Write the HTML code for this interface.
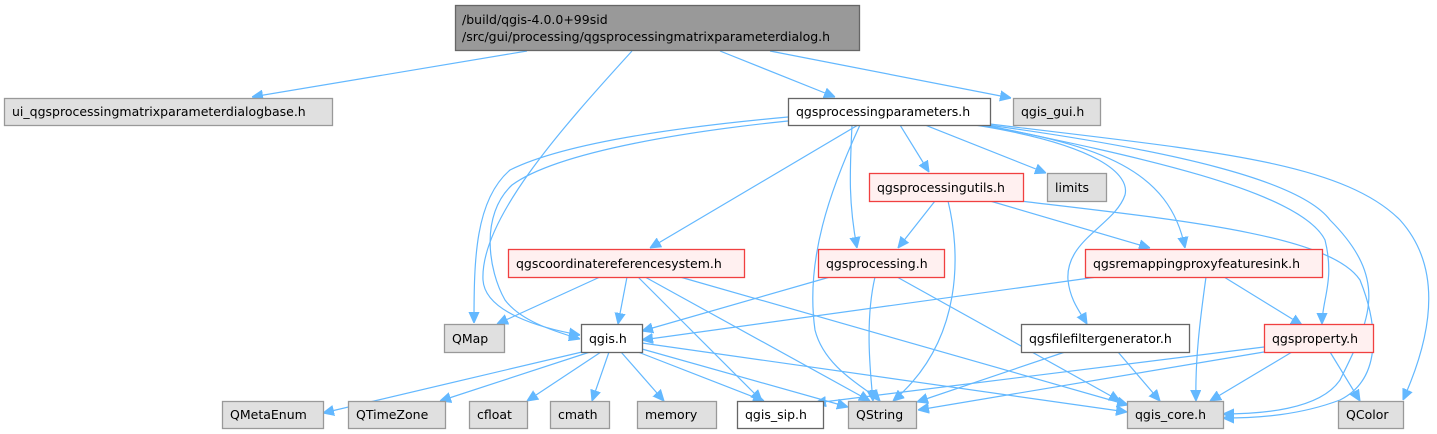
<!DOCTYPE html>
<html><head><meta charset="utf-8"><style>
html,body{margin:0;padding:0;background:#fff;}
svg{display:block;}
text{font-family:"DejaVu Sans","Liberation Sans",sans-serif;font-size:12.5px;fill:#000;}
.g{fill:#e0e0e0;stroke:#999;stroke-width:1.3}
.w{fill:#fff;stroke:#666;stroke-width:1.3}
.r{fill:#fff0f0;stroke:#f04040;stroke-width:1.3}
.e{fill:none;stroke:#63b8ff;stroke-width:1.2}
</style></head><body>
<svg width="1437" height="434" viewBox="0 0 1437 434" xmlns="http://www.w3.org/2000/svg">
<defs><marker id="a" viewBox="0 0 10 10" refX="10" refY="5" markerWidth="11" markerHeight="11" markerUnits="userSpaceOnUse" orient="auto"><path d="M0,0.5 L10,5 L0,9.5 z" fill="#63b8ff" stroke="#63b8ff"/></marker></defs>
<g marker-end="url(#a)">
<path class="e" d="M527,51 L252,97"/>
<path class="e" d="M632,51 C560,130 480,220 483,280 C485,312 540,328 580,335"/>
<path class="e" d="M720,51 L835,97"/>
<path class="e" d="M770,51 L1011,98"/>
<path class="e" d="M788,117 C700,125 570,140 510,170 C475,200 474,260 474,323"/>
<path class="e" d="M788,121 C700,130 560,150 512,185 C480,215 488,270 505,300 C520,320 550,330 580,339"/>
<path class="e" d="M858,125 L650,248"/>
<path class="e" d="M860,125 C830,190 805,260 815,330 C825,370 870,390 880,401"/>
<path class="e" d="M852,125 C850,170 848,200 857,248"/>
<path class="e" d="M900,125 L929,172"/>
<path class="e" d="M925,125 L1046,173"/>
<path class="e" d="M975,125 C1100,145 1130,175 1125,195 C1115,225 1065,240 1068,280 C1070,300 1080,312 1087,324"/>
<path class="e" d="M980,125 C1100,145 1170,170 1185,248"/>
<path class="e" d="M985,125 C1130,155 1300,190 1325,240 C1335,280 1322,300 1322,324"/>
<path class="e" d="M988,125 C1170,150 1300,180 1330,220 C1390,280 1370,320 1340,380 C1320,410 1260,414 1223,414"/>
<path class="e" d="M990,124 C1200,150 1340,160 1400,220 C1445,270 1430,340 1403,400"/>
<path class="e" d="M935,201 L898,248"/>
<path class="e" d="M948,201 C960,250 965,340 893,401"/>
<path class="e" d="M990,201 L1150,248"/>
<path class="e" d="M1020,201 C1180,220 1330,235 1360,280 C1380,330 1380,380 1340,400 C1300,415 1260,418 1223,418"/>
<path class="e" d="M600,277 L497,324"/>
<path class="e" d="M627,277 L618,324"/>
<path class="e" d="M638,277 L762,401"/>
<path class="e" d="M645,277 L870,401"/>
<path class="e" d="M680,277 L1128,405"/>
<path class="e" d="M830,277 L642,331"/>
<path class="e" d="M875,277 C865,320 870,370 873,401"/>
<path class="e" d="M897,277 L1120,401"/>
<path class="e" d="M1097,277 L642,340"/>
<path class="e" d="M1206,277 C1200,320 1195,360 1196,401"/>
<path class="e" d="M1224,277 L1302,325"/>
<path class="e" d="M1065,352 L917,402"/>
<path class="e" d="M1118,352 L1160,401"/>
<path class="e" d="M1264,347 L815,403"/>
<path class="e" d="M1264,352 L918,410"/>
<path class="e" d="M1292,352 L1210,401"/>
<path class="e" d="M1330,352 L1360,401"/>
<path class="e" d="M582,352 L323,413"/>
<path class="e" d="M590,352 L440,401"/>
<path class="e" d="M601,352 L527,401"/>
<path class="e" d="M609,352 L592,401"/>
<path class="e" d="M621,352 L664,401"/>
<path class="e" d="M638,352 L764,401"/>
<path class="e" d="M642,349 L848,407"/>
<path class="e" d="M642,343 L1127,412"/>
</g>
<rect x="455.5" y="5.5" width="404" height="45" fill="#999" stroke="#666" stroke-width="1.3"/>
<text x="462" y="24">/build/qgis-4.0.0+99sid</text>
<text x="462" y="41">/src/gui/processing/qgsprocessingmatrixparameterdialog.h</text>
<rect class="g" x="4.5" y="98.5" width="328" height="27"/><text x="12" y="116">ui_qgsprocessingmatrixparameterdialogbase.h</text>
<rect class="w" x="788.5" y="98.5" width="202" height="27"/><text x="796" y="116">qgsprocessingparameters.h</text>
<rect class="g" x="1013.5" y="98.5" width="87" height="27"/><text x="1021" y="116">qgis_gui.h</text>
<rect class="r" x="869.5" y="173.5" width="154" height="28"/><text x="877" y="192">qgsprocessingutils.h</text>
<rect class="g" x="1047.5" y="173.5" width="59" height="28"/><text x="1055" y="192">limits</text>
<rect class="r" x="508.5" y="249.5" width="236" height="28"/><text x="516" y="268">qgscoordinatereferencesystem.h</text>
<rect class="r" x="818.5" y="249.5" width="126" height="28"/><text x="826" y="268">qgsprocessing.h</text>
<rect class="r" x="1085.5" y="249.5" width="237" height="28"/><text x="1093" y="268">qgsremappingproxyfeaturesink.h</text>
<rect class="g" x="444.5" y="324.5" width="60" height="28"/><text x="452" y="343">QMap</text>
<rect class="w" x="581.5" y="324.5" width="61" height="28"/><text x="589" y="343">qgis.h</text>
<rect class="w" x="1021.5" y="324.5" width="168" height="28"/><text x="1029" y="343">qgsfilefiltergenerator.h</text>
<rect class="r" x="1264.5" y="324.5" width="109" height="28"/><text x="1272" y="343">qgsproperty.h</text>
<rect class="g" x="222.5" y="401.5" width="101" height="27"/><text x="230" y="419">QMetaEnum</text>
<rect class="g" x="348.5" y="401.5" width="97" height="27"/><text x="356" y="419">QTimeZone</text>
<rect class="g" x="469.5" y="401.5" width="58" height="27"/><text x="477" y="419">cfloat</text>
<rect class="g" x="550.5" y="401.5" width="59" height="27"/><text x="558" y="419">cmath</text>
<rect class="g" x="637.5" y="401.5" width="79" height="27"/><text x="645" y="419">memory</text>
<rect class="w" x="737.5" y="401.5" width="86" height="27"/><text x="745" y="419">qgis_sip.h</text>
<rect class="g" x="848.5" y="401.5" width="68" height="27"/><text x="856" y="419">QString</text>
<rect class="g" x="1127.5" y="401.5" width="96" height="27"/><text x="1135" y="419">qgis_core.h</text>
<rect class="g" x="1338.5" y="401.5" width="65" height="27"/><text x="1346" y="419">QColor</text>
</svg>
</body></html>
